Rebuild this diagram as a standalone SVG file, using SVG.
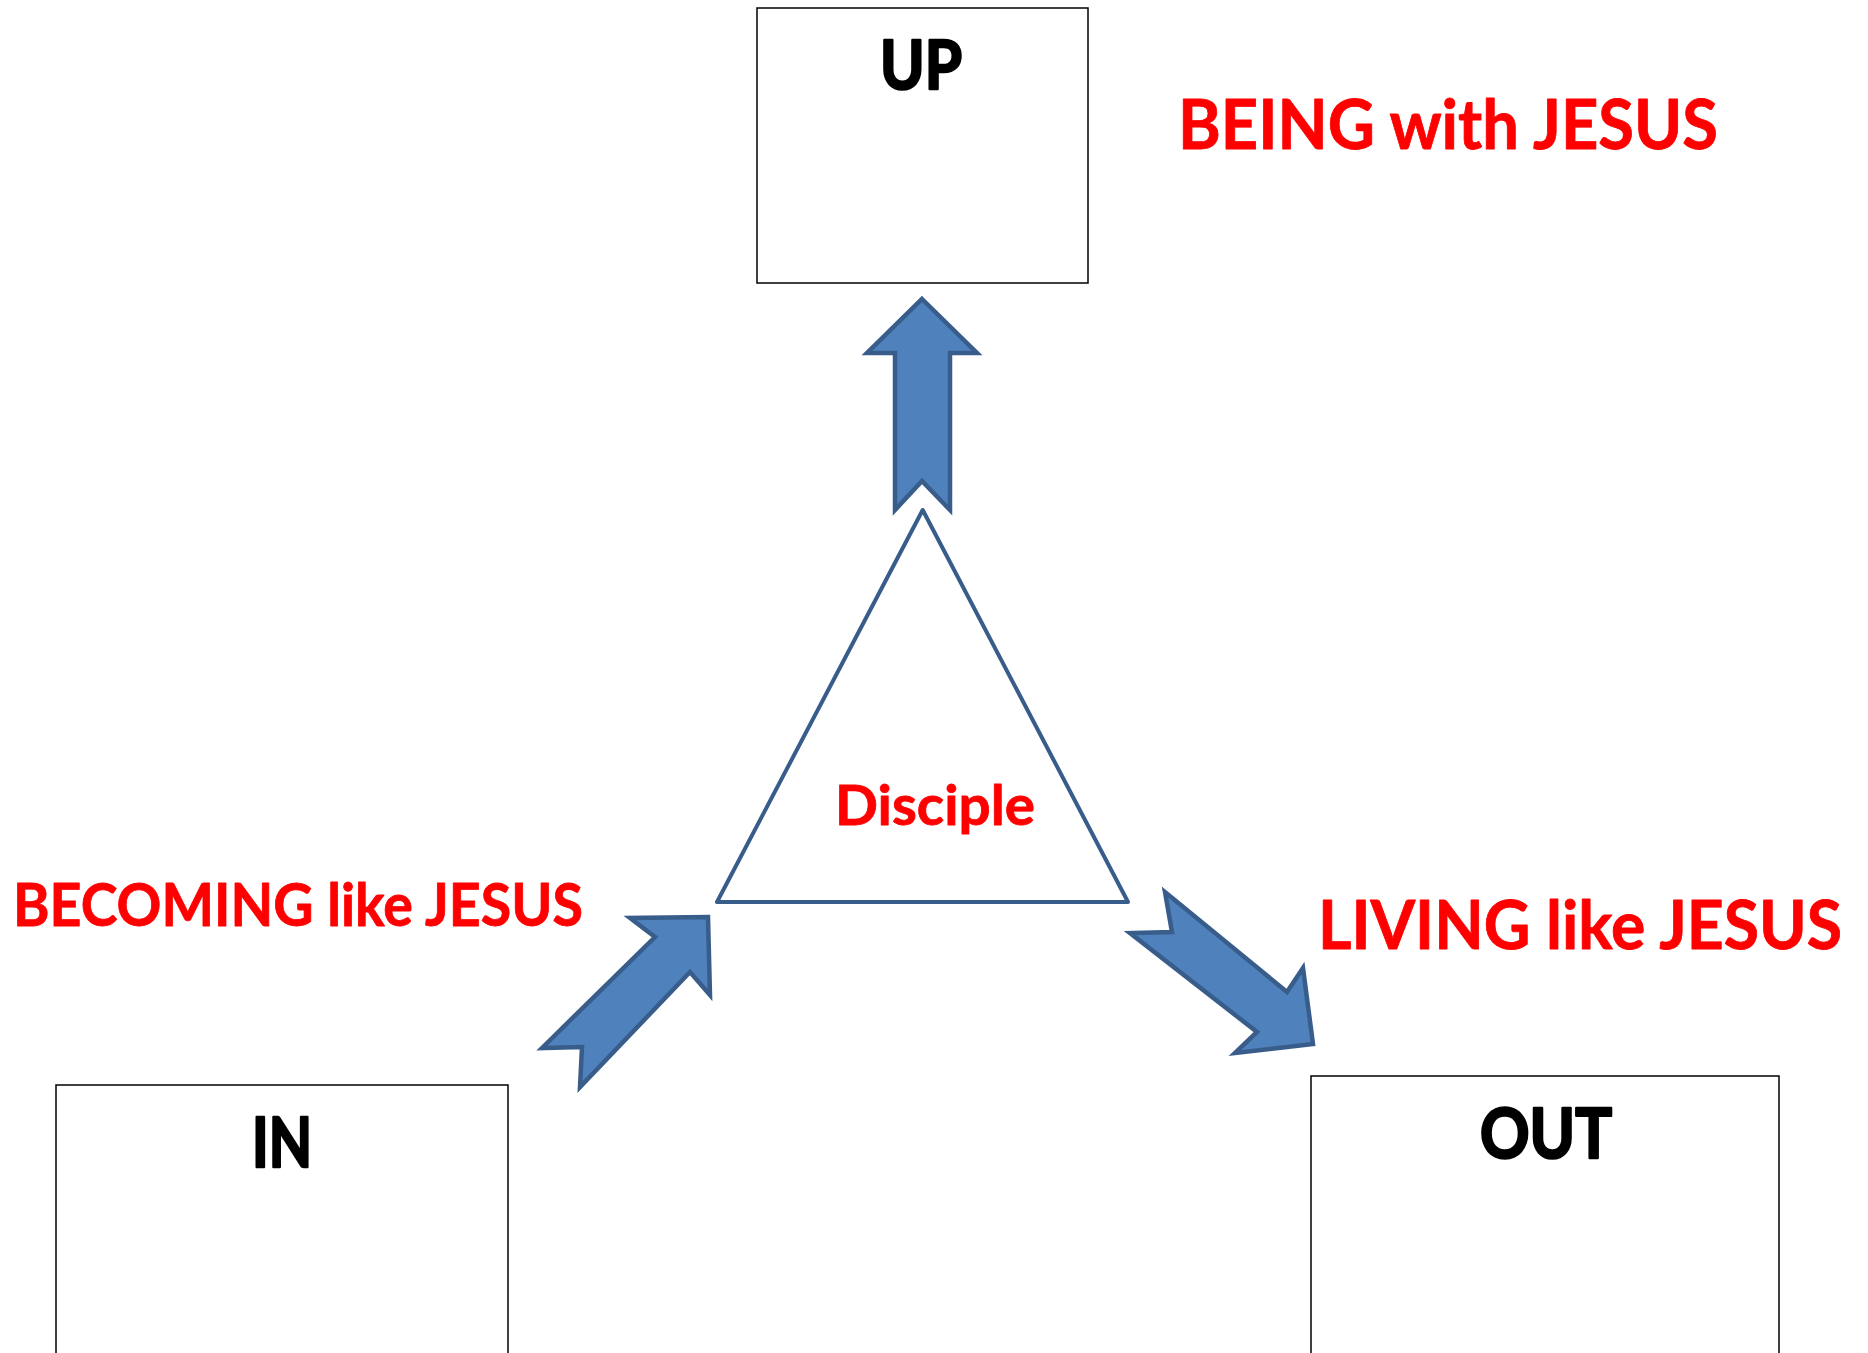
<svg xmlns="http://www.w3.org/2000/svg" width="1868" height="1353" viewBox="0 0 1868 1353">
<style>
.box{fill:#fff;stroke:#000;stroke-width:1.5}
.head{font-family:Lato,"Noto Sans",sans-serif;font-weight:bold;fill:#000;stroke:#000;stroke-width:2.5;stroke-linejoin:round}
.red{font-family:Lato,"Open Sans",sans-serif;font-weight:bold;fill:#FF0000;stroke:#FF0000;stroke-width:0.8;stroke-linejoin:round}
.arrow{fill:#4F81BD;stroke:#385D8A;stroke-width:4.5;stroke-linejoin:miter}
.tri{fill:#fff;stroke:#385D8A;stroke-width:4;stroke-linejoin:round}
</style>
<rect width="1868" height="1353" fill="#fff"/>
<g id="node-up">
<rect class="box" x="757" y="8" width="331" height="275"/>
<text class="head" x="880" y="89" font-size="67" textLength="82" lengthAdjust="spacingAndGlyphs">UP</text>
</g>
<g id="node-in">
<rect class="box" x="56" y="1085" width="452" height="300"/>
<text class="head" x="252" y="1167" font-size="68" textLength="60" lengthAdjust="spacingAndGlyphs">IN</text>
</g>
<g id="node-out">
<rect class="box" x="1311" y="1076" width="468" height="300"/>
<text class="head" x="1480" y="1158" font-size="68" textLength="132" lengthAdjust="spacingAndGlyphs">OUT</text>
</g>
<g id="node-disciple">
<polygon class="tri" points="922.7,510 717,902 1128,902"/>
<text class="red" x="835" y="825" font-size="56" textLength="200" lengthAdjust="spacingAndGlyphs">Disciple</text>
</g>
<g id="label-being">
<text class="red" x="1178" y="149" font-size="68" textLength="540" lengthAdjust="spacingAndGlyphs">BEING with JESUS</text>
</g>
<g id="label-becoming">
<text class="red" x="13" y="926" font-size="60" textLength="570" lengthAdjust="spacingAndGlyphs">BECOMING like JESUS</text>
</g>
<g id="label-living">
<text class="red" x="1318" y="949" font-size="66" textLength="524" lengthAdjust="spacingAndGlyphs">LIVING like JESUS</text>
</g>
<g id="connectors">
<polygon class="arrow" points="922,299 977,353 950,353 950,510 922,481 895,510 895,353 867,353"/>
<polygon class="arrow" points="708,917 710,995 690,972 580,1087 582,1047 542,1048 655,937 630,918"/>
<polygon class="arrow" points="1313,1044 1235,1053 1257,1032 1130,933 1172,932 1165,892 1287,992 1303,968"/>
</g>
</svg>
